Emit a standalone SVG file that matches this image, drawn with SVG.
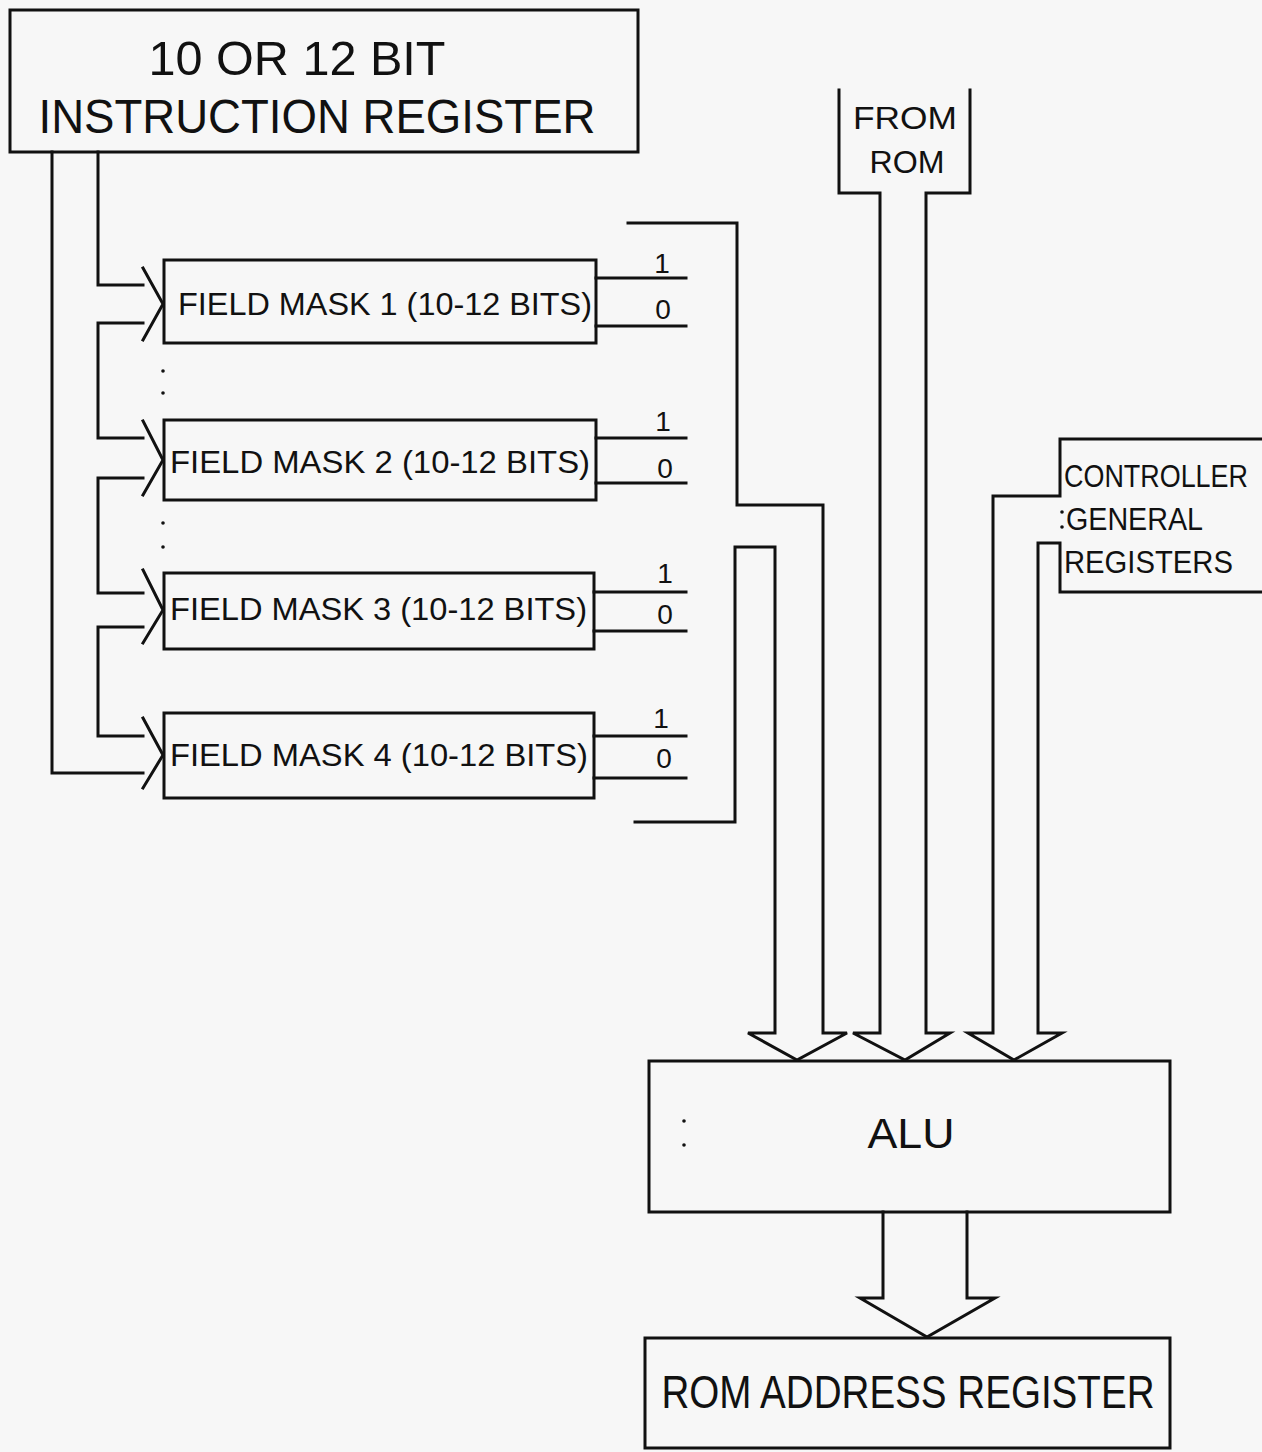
<svg xmlns="http://www.w3.org/2000/svg" width="1262" height="1452" viewBox="0 0 1262 1452">
<style>
.ln{fill:none;stroke:#111;stroke-width:3;stroke-linejoin:miter;stroke-linecap:square}
.box{fill:none;stroke:#111;stroke-width:3}
.t{font-family:"Liberation Sans","DejaVu Sans",sans-serif;fill:#111}
.b{font-size:28px}
.dot{fill:#111}
</style>
<rect x="0" y="0" width="1262" height="1452" fill="#f7f7f7"/>
<g id="instruction-register">
<rect class="box" x="10" y="10" width="628" height="142"/>
<text class="t" x="297" y="75" font-size="48" text-anchor="middle" textLength="297" lengthAdjust="spacingAndGlyphs">10 OR 12 BIT</text>
<text class="t" x="317" y="133" font-size="48" text-anchor="middle" textLength="557" lengthAdjust="spacingAndGlyphs">INSTRUCTION REGISTER</text>
</g>
<g id="field-mask-1">
<rect class="box" x="164" y="260" width="432" height="83"/>
<text class="t" x="178" y="315" font-size="31" textLength="414" lengthAdjust="spacingAndGlyphs">FIELD MASK 1 (10-12 BITS)</text>
<text class="t b" x="662" y="273" text-anchor="middle">1</text>
<text class="t b" x="663" y="319" text-anchor="middle">0</text>
</g>
<g id="field-mask-2">
<rect class="box" x="164" y="420" width="432" height="80"/>
<text class="t" x="170" y="473" font-size="31" textLength="420" lengthAdjust="spacingAndGlyphs">FIELD MASK 2 (10-12 BITS)</text>
<text class="t b" x="663" y="431" text-anchor="middle">1</text>
<text class="t b" x="665" y="478" text-anchor="middle">0</text>
</g>
<g id="field-mask-3">
<rect class="box" x="164" y="573" width="430" height="76"/>
<text class="t" x="170" y="620" font-size="31" textLength="417" lengthAdjust="spacingAndGlyphs">FIELD MASK 3 (10-12 BITS)</text>
<text class="t b" x="665" y="583" text-anchor="middle">1</text>
<text class="t b" x="665" y="624" text-anchor="middle">0</text>
</g>
<g id="field-mask-4">
<rect class="box" x="164" y="713" width="430" height="85"/>
<text class="t" x="170" y="766" font-size="31" textLength="418" lengthAdjust="spacingAndGlyphs">FIELD MASK 4 (10-12 BITS)</text>
<text class="t b" x="661" y="728" text-anchor="middle">1</text>
<text class="t b" x="664" y="768" text-anchor="middle">0</text>
</g>
<g id="from-rom">
<text class="t" x="905" y="129" font-size="32" text-anchor="middle" textLength="104" lengthAdjust="spacingAndGlyphs">FROM</text>
<text class="t" x="907" y="173" font-size="32" text-anchor="middle" textLength="75" lengthAdjust="spacingAndGlyphs">ROM</text>
</g>
<g id="controller-general-registers">
<text class="t" x="1064" y="487" font-size="31" textLength="184" lengthAdjust="spacingAndGlyphs">CONTROLLER</text>
<circle class="dot" cx="1062" cy="512" r="1.8"/>
<circle class="dot" cx="1062" cy="527" r="1.8"/>
<text class="t" x="1066" y="530" font-size="31" textLength="137" lengthAdjust="spacingAndGlyphs">GENERAL</text>
<text class="t" x="1064" y="573" font-size="31" textLength="169" lengthAdjust="spacingAndGlyphs">REGISTERS</text>
</g>
<g id="alu">
<rect class="box" x="649" y="1061" width="521" height="151"/>
<circle class="dot" cx="684" cy="1121" r="1.8"/>
<circle class="dot" cx="684" cy="1145" r="1.8"/>
<text class="t" x="911" y="1148" font-size="42" text-anchor="middle" textLength="87" lengthAdjust="spacingAndGlyphs">ALU</text>
</g>
<g id="rom-address-register">
<rect class="box" x="645" y="1338" width="525" height="110"/>
<text class="t" x="908" y="1408" font-size="46" text-anchor="middle" textLength="493" lengthAdjust="spacingAndGlyphs">ROM ADDRESS REGISTER</text>
</g>
<g id="dots">
<circle class="dot" cx="163" cy="371" r="1.8"/>
<circle class="dot" cx="163" cy="393" r="1.8"/>
<circle class="dot" cx="163" cy="523" r="1.8"/>
<circle class="dot" cx="163" cy="547" r="1.8"/>
</g>
<g id="connectors">
<path class="ln" d="M52 152 V773 H143"/>
<path class="ln" d="M98 152 V285 H143"/>
<path class="ln" d="M143 268 L163 304 L143 340"/>
<path class="ln" d="M143 323 H98 V438 H143"/>
<path class="ln" d="M143 421 L163 460 L143 495"/>
<path class="ln" d="M143 478 H98 V593 H143"/>
<path class="ln" d="M143 570 L163 610 L143 643"/>
<path class="ln" d="M143 627 H98 V736 H143"/>
<path class="ln" d="M143 718 L163 755 L143 788"/>
<path class="ln" d="M596 278 H686 M596 326 H686"/>
<path class="ln" d="M596 438 H686 M596 483 H686"/>
<path class="ln" d="M594 592 H686 M594 631 H686"/>
<path class="ln" d="M594 736 H686 M594 778 H686"/>
<path class="ln" d="M628 223 H737 V505 H823 V1033 H847 L797 1060 L748 1033 H775 V547 H735 V822 H635"/>
<path class="ln" d="M839 90 V193 H880 V1033 H853 L905 1060 L950 1033 H926 V193 H970 V90"/>
<path class="ln" d="M1262 439 H1060 V496 H993 V1033 H968 L1014 1060 L1062 1033 H1038 V543 H1060 V592 H1262"/>
<path class="ln" d="M883 1212 V1298 H860 L927 1337 L995 1298 H967 V1212"/>
</g>
</svg>
